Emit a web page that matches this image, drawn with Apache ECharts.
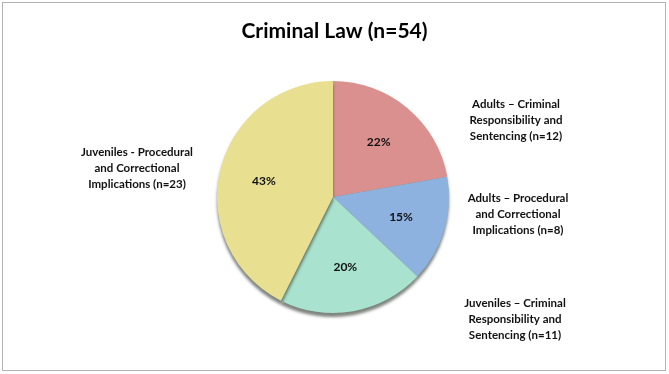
<!DOCTYPE html>
<html>
<head>
<meta charset="utf-8">
<script src="https://cdn.jsdelivr.net/npm/echarts@6/dist/echarts.min.js"></script>
<style>
  html, body { margin: 0; padding: 0; background: #fff; }
  #wrap { position: relative; width: 669px; height: 374px; }
  #frame { position: absolute; left: 2px; top: 2px; width: 662px; height: 367px; border: 1.5px solid #b4b4b4; }
  #chart { position: absolute; left: 0; top: 0; width: 669px; height: 374px; }
</style>
</head>
<body>
<div id="wrap"><div id="frame"></div><div id="chart"></div></div>
<script>
const titleText = 'Criminal Law (n=54)';
const categories = [
  'Adults \u2013 Criminal\nResponsibility and\nSentencing (n=12)',
  'Adults \u2013 Procedural\nand Correctional\nImplications (n=8)',
  'Juveniles \u2013 Criminal\nResponsibility and\nSentencing (n=11)',
  'Juveniles - Procedural\nand Correctional\nImplications (n=23)'
];
const counts = [12, 8, 11, 23];
const colors = ['#D9908F', '#8DB2E0', '#A9E2CF', '#E8E090'];

const FONT = 'Lato, "Open Sans", sans-serif';

// per-slice label placement tweaks (style only)
const labelLineLen = [-16, -57, 8, 8];
const labelEdge = [99, 97, 100, 83];

const mainData = counts.map((v, i) => ({
  value: v,
  name: categories[i],
  label: { edgeDistance: labelEdge[i] },
  labelLine: { show: false, length: labelLineLen[i], length2: 0 }
}));
const pctData = counts.map((v, i) => ({ value: v, name: categories[i] }));

const chart = echarts.init(document.getElementById('chart'), null, { renderer: 'canvas' });
chart.setOption({
  backgroundColor: 'transparent',
  animation: false,
  color: colors,
  title: {
    text: titleText,
    left: 'center',
    top: 16,
    textStyle: { fontFamily: FONT, fontSize: 21, fontWeight: 'bold', color: '#000' }
  },
  series: [
    {
      type: 'pie',
      center: [333, 197],
      radius: 116,
      startAngle: 90,
      clockwise: true,
      silent: true,
      avoidLabelOverlap: true,
      itemStyle: {
        borderWidth: 0,
        shadowColor: 'rgba(40,50,40,0.6)',
        shadowBlur: 3,
        shadowOffsetY: 4
      },
      label: {
        show: true,
        position: 'outside',
        alignTo: 'edge',
        edgeDistance: 98,
        formatter: p => p.name.split('\n').map(s => '{c|' + s + '}').join('\n'),
        rich: {
          c: {
            width: 108,
            align: 'center',
            fontFamily: FONT,
            fontSize: 11.5,
            fontWeight: 'bold',
            color: '#111',
            lineHeight: 16
          }
        }
      },
      labelLine: { show: false, length: 8, length2: 0 },
      data: mainData
    },
    {
      type: 'pie',
      center: [333, 197],
      radius: 136,
      startAngle: 90,
      clockwise: true,
      silent: true,
      itemStyle: { color: 'rgba(0,0,0,0)', borderWidth: 0 },
      label: {
        show: true,
        position: 'inside',
        formatter: p => Math.round(p.percent) + '%',
        fontFamily: FONT,
        fontSize: 12,
        fontWeight: 'bold',
        color: '#111'
      },
      labelLine: { show: false },
      data: pctData
    }
  ]
});
</script>
</body>
</html>
